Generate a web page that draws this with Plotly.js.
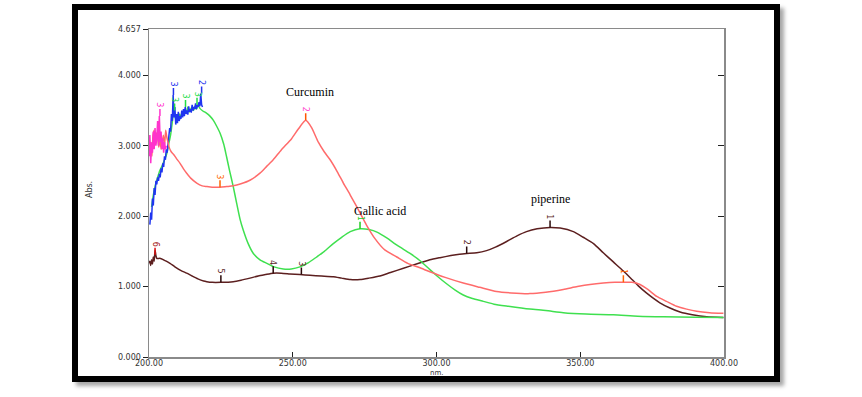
<!DOCTYPE html>
<html><head><meta charset="utf-8">
<script src="https://cdn.plot.ly/plotly-3.0.1.min.js"></script>
<style>
html,body{margin:0;padding:0;background:#fff;}
#wrap{position:relative;width:862px;height:397px;overflow:hidden;}
#frame{position:absolute;left:72px;top:4px;width:696px;height:366px;border:6px solid #000;background:#fff;box-shadow:4px 4px 4px rgba(0,0,0,0.35);}
#chart{position:absolute;left:0;top:0;width:862px;height:397px;}
</style></head>
<body><div id="wrap"><div id="frame"></div><div id="chart"></div></div>
<script>
// Wavelength (nm) / absorbance readings
const curcuminX = [200.2,200.6,201.0,201.4,201.8,202.2,202.6,203.0,203.4,203.8,204.2,204.6,205.0,205.4,205.8,206.2,206.6,207.0,207.5,208.0,208.5,209.5,210.8,212,213.1,214.5,216.6,218.5,220.1,222,224.7,227,229.3,232,235.1,238.6,241,243.2,246,249.6,252,254.5,256.5,258.9,261,263,265.5,267.6,270,272.3,275.7,278.6,282,286.2,290,294,297.7,303,309.3,315,320.9,326,332.5,338,344.1,349,353.4,358,362,365,368,370.8,373.5,376.6,380,383.5,387,390.5,395,399.8];
const curcuminY = [2.95,3.05,2.85,3.15,3.22,3.05,3.18,3.12,2.98,3.10,2.95,3.05,3.15,3.0,3.22,3.12,3.05,2.98,2.93,2.9,2.88,2.82,2.75,2.67,2.61,2.54,2.47,2.43,2.42,2.41,2.41,2.42,2.43,2.46,2.51,2.61,2.71,2.80,2.94,3.10,3.24,3.36,3.26,3.05,2.91,2.8,2.63,2.47,2.3,2.13,1.87,1.68,1.52,1.42,1.33,1.27,1.21,1.13,1.05,0.99,0.93,0.91,0.90,0.92,0.96,1.0,1.03,1.05,1.06,1.06,1.06,1.03,0.96,0.86,0.79,0.72,0.68,0.65,0.63,0.62];

const curcuminNoiseX = [200.0,200.3,200.6,200.9,201.2,201.5,201.8,202.1,202.4,202.7,203.0,203.3,203.6,203.9,204.2,204.5,204.8,205.1,205.4,205.7,206.0];
const curcuminNoiseY = [2.85,3.15,2.75,3.05,2.9,3.2,2.95,3.25,3.0,3.1,3.35,3.0,3.42,3.05,3.2,2.95,3.1,2.9,3.05,2.95,3.0];

const gallicNoiseX = [200.3,200.6,200.9,201.2,201.5,201.8,202.1,202.4,202.7,203.0,203.3,203.6,203.9,204.2,204.5,204.8,205.1,205.4,205.7,206.0,206.3,206.6,206.9,207.2,207.5,207.8,208.1,208.4,208.7,209.0,209.3,209.6,209.9,210.2,210.5,210.8,211.1,211.4,211.7,212.0,212.3,212.6,212.9,213.2,213.5,213.8,214.1,214.4,214.7,215.0,215.3,215.6,215.9,216.2,216.5,216.8,217.1,217.4,217.7,218.0,218.3,218.6];
const gallicNoiseY = [1.88,2.05,1.95,2.25,2.15,2.4,2.3,2.5,2.45,2.55,2.5,2.6,2.55,2.68,2.62,2.75,2.7,2.85,2.8,2.95,2.9,3.05,3.1,3.25,3.2,3.45,3.35,3.72,3.4,3.55,3.3,3.45,3.32,3.48,3.35,3.42,3.38,3.5,3.4,3.52,3.42,3.55,3.45,3.5,3.44,3.56,3.48,3.52,3.47,3.58,3.5,3.55,3.52,3.6,3.52,3.58,3.55,3.62,3.56,3.74,3.58,3.55];

const gallicX = [200.9,201.5,202.1,203,203.8,204.6,205.4,206.2,207.0,207.5,207.9,208.3,208.7,209.1,209.5,210.0,210.5,211.0,211.5,212,212.5,213,213.5,214,214.5,215,215.5,216,216.5,217,217.7,218.5,219.3,220.1,221.2,222.4,223.5,224.7,226,227,228,229.3,230.5,231.7,232.8,234.5,236.3,238.6,241,243.5,246.7,249.5,252.5,255.5,258.3,261,264.1,267,270,273.4,276.5,279.5,282.7,286.5,290.8,294.5,297.7,300.5,303.5,306.5,309.3,312.5,316.3,320,325,332.5,338,344.1,352,361.5,370,378.9,390,399.8];
const gallicY = [2.13,2.3,2.42,2.55,2.65,2.72,2.8,2.89,3.05,3.15,3.27,3.4,3.5,3.42,3.35,3.38,3.45,3.4,3.48,3.43,3.5,3.47,3.55,3.48,3.52,3.55,3.5,3.56,3.52,3.58,3.53,3.5,3.48,3.46,3.42,3.36,3.28,3.18,3.02,2.84,2.65,2.42,2.18,1.95,1.8,1.61,1.47,1.38,1.33,1.28,1.25,1.25,1.28,1.34,1.42,1.5,1.61,1.7,1.78,1.82,1.81,1.77,1.69,1.58,1.47,1.36,1.24,1.14,1.04,0.95,0.88,0.83,0.79,0.75,0.72,0.68,0.66,0.63,0.61,0.60,0.58,0.57,0.565,0.56];

const piperineX = [200.0,200.3,200.6,200.9,201.2,201.5,201.8,202.1,202.4,202.7,203.2,204,205,206,207.3,209,211,213.1,215,217,219,220.1,222,225,229.3,232,235.1,238,240.5,243.2,246,249,252.5,256,260,264.1,267,270,273.4,276.5,280.3,284,288.5,293,297.7,301.2,305,308,310.5,314,317.4,320.5,324.4,328,331.3,335,339.5,343,347.6,351,354.6,358,361.5,365,368,370.2,373,377.7,381,384.7,389,394,399.8];
const piperineY = [1.33,1.36,1.30,1.38,1.32,1.42,1.36,1.52,1.44,1.40,1.40,1.40,1.38,1.36,1.33,1.28,1.23,1.19,1.15,1.11,1.08,1.07,1.06,1.06,1.07,1.09,1.12,1.15,1.17,1.19,1.19,1.18,1.17,1.16,1.15,1.14,1.12,1.10,1.10,1.12,1.15,1.20,1.26,1.32,1.38,1.41,1.44,1.46,1.47,1.48,1.51,1.56,1.64,1.72,1.78,1.82,1.84,1.83,1.78,1.70,1.61,1.48,1.35,1.22,1.10,1.01,0.91,0.77,0.70,0.64,0.60,0.57,0.56];

// peak pick labels
const peakX = [339.5,310.5,253,243.2,225,202.1,254.5,224.7,365,273.4,203.8,208.5,218.3,208.9,212.7,216.7];
const peakY = [1.84,1.47,1.17,1.19,1.06,1.45,3.36,2.41,1.06,1.82,3.42,3.72,3.74,3.5,3.55,3.58];
const peakText = ['1','2','3','4','5','6','2','3','1','1','3','3','2','3','3','3'];
const peakColor = ['#2a0a0a','#2a0a0a','#2a0a0a','#2a0a0a','#2a0a0a','#e01010','#ff5500','#ff6600','#ff6600','#22cc22','#ff33cc','#2233ee','#2233ee','#22dd44','#22dd44','#22dd44'];
const peakTextColor = ['#5c1f1f','#5c1f1f','#5c1f1f','#5c1f1f','#5c1f1f','#a01010','#ff44cc','#ff6600','#ff6600','#22cc22','#ff33cc','#2233ee','#2233ee','#22dd44','#22dd44','#22dd44'];

const tickVals = [0,1,2,3,4,4.657];
const tickText = ['0.000','1.000','2.000','3.000','4.000','4.657'];
const xTickVals = [200,250,300,350,400];
const xTickText = ['200.00','250.00','300.00','350.00','400.00'];

const smooth = {shape:'spline', smoothing:0.6};
const traces = [
  {x: piperineX, y: piperineY, mode:'lines', line:Object.assign({color:'#5c1f1f', width:1.5}, smooth)},
  {x: gallicX, y: gallicY, mode:'lines', line:Object.assign({color:'#3fe04f', width:1.5}, smooth)},
  {x: gallicNoiseX, y: gallicNoiseY, mode:'lines', line:{color:'#1f35f0', width:1.5}},
  {x: curcuminX, y: curcuminY, mode:'lines', line:Object.assign({color:'#ff6b6b', width:1.5}, smooth)},
  {x: curcuminNoiseX, y: curcuminNoiseY, mode:'lines', line:{color:'#ff33cc', width:1.5}},
  {x: [0], y: [0], yaxis:'y2', mode:'lines', line:{width:0}, hoverinfo:'skip'}
];

const annotations = peakX.map((px, i) => ({
  x: px, y: peakY[i], xref:'x', yref:'y', text: peakText[i], textangle: 90,
  showarrow: true, arrowhead: 0, arrowwidth: 1.5, arrowcolor: peakColor[i],
  ax: 0, ay: -11, font:{family:'DejaVu Sans', size:8, color: peakTextColor[i]}
}));
annotations.push(
  {x:256, y:3.76, xref:'x', yref:'y', text:'Curcumin', showarrow:false, font:{family:'Liberation Serif', size:12, color:'#000'}},
  {x:280.5, y:2.07, xref:'x', yref:'y', text:'Gallic acid', showarrow:false, font:{family:'Liberation Serif', size:12, color:'#000'}},
  {x:339.5, y:2.25, xref:'x', yref:'y', text:'piperine', showarrow:false, font:{family:'Liberation Serif', size:12, color:'#000'}},
  {x:-0.115, y:0.51, xref:'paper', yref:'paper', text:'Abs.', textangle:-90, showarrow:false, font:{family:'DejaVu Sans', size:8, color:'#333'}},
  {x:0.5, y:-0.0503, xref:'paper', yref:'paper', yanchor:'middle', text:'nm.', showarrow:false, borderpad:0, font:{family:'DejaVu Sans', size:7, color:'#333'}}
);

const layout = {
  width:862, height:397,
  margin:{l:149, r:138, t:29, b:40},
  paper_bgcolor:'rgba(0,0,0,0)', plot_bgcolor:'rgba(0,0,0,0)',
  showlegend:false,
  xaxis:{range:[200,400], tickvals:xTickVals, ticktext:xTickText, ticks:'inside', ticklen:5, tickcolor:'#222', tickwidth:1,
    ticklabelstandoff:-2,
    showline:true, linecolor:'#8a8a8a', linewidth:1.5, mirror:true, showgrid:false, zeroline:false,
    tickfont:{family:'DejaVu Sans', size:8, color:'#333'}},
  yaxis:{range:[0,4.657], tickvals:tickVals, ticktext:tickText, ticks:'outside', ticklen:5, tickcolor:'#222', tickwidth:1,
    showline:true, linecolor:'#8a8a8a', linewidth:1.5, showgrid:false, zeroline:false,
    tickfont:{family:'DejaVu Sans', size:8, color:'#333'}},
  yaxis2:{range:[0,4.657], overlaying:'y', side:'right', tickvals:[1,2,3,4], ticks:'inside', ticklen:6, tickcolor:'#222',
    showticklabels:false, showline:true, linecolor:'#8a8a8a', linewidth:1.5, showgrid:false, zeroline:false},
  annotations: annotations
};

Plotly.newPlot('chart', traces, layout, {displayModeBar:false, staticPlot:true});
</script></body></html>
